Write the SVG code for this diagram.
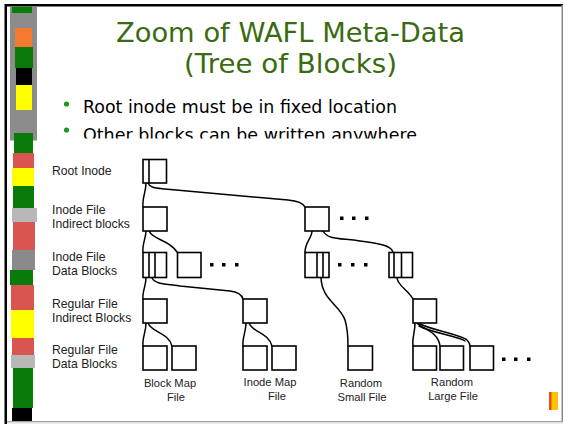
<svg xmlns="http://www.w3.org/2000/svg" width="565" height="424" viewBox="0 0 565 424">
<style>
.b{fill:#fff;stroke:#000;stroke-width:1.6}
.l{fill:none;stroke:#000;stroke-width:1.6}
.c{fill:none;stroke:#000;stroke-width:1.5;stroke-linecap:round}
.lab{font-family:"Liberation Sans",Arial,sans-serif;font-size:12.2px;fill:#222}
.cap{font-family:"Liberation Sans",Arial,sans-serif;font-size:11.2px;fill:#222;text-anchor:middle}
.t{font-family:"DejaVu Sans","Comic Sans MS",sans-serif;font-size:27px;fill:#3a6b10}
.bu{font-family:"DejaVu Sans","Comic Sans MS",sans-serif;font-size:18px;fill:#000}
.d{fill:#000}
</style>
<defs>
<clipPath id="clipB"><rect x="0" y="90" width="565" height="48.5"/></clipPath>
</defs>
<rect width="565" height="424" fill="#fff"/>
<g id="frame">
<rect x="4.5" y="4" width="2.5" height="420" fill="#000"/>
<rect x="5" y="4" width="558" height="2.5" fill="#000"/>
<rect x="561.5" y="5" width="1.5" height="417" fill="#8a8a8a"/>
<rect x="7" y="421" width="556" height="1.5" fill="#a0a0a0"/>
<rect x="7" y="422.5" width="556" height="1.5" fill="#eee"/>
</g>
<g id="stripe">
<rect x="10" y="6.5" width="27" height="134" fill="#8c8c8c"/>
<rect x="12" y="6.5" width="20" height="6.5" fill="#0a7a0a"/>
<rect x="15" y="28" width="17" height="19" fill="#f47a30"/>
<rect x="15" y="47" width="18" height="21" fill="#0a7a0a"/>
<rect x="16" y="68" width="16" height="17" fill="#000"/>
<rect x="16" y="85" width="16" height="25" fill="#ffff00"/>
<rect x="14" y="133" width="19" height="20" fill="#0a7a0a"/>
<rect x="13" y="153" width="21" height="15" fill="#d95550"/>
<rect x="12" y="168" width="22" height="18" fill="#ffff00"/>
<rect x="13" y="186" width="21" height="22" fill="#0a7a0a"/>
<rect x="12" y="208" width="25" height="14" fill="#b8b8b8"/>
<rect x="13" y="222" width="22" height="28" fill="#d95550"/>
<rect x="12" y="250" width="23" height="20" fill="#8a8a8a"/>
<rect x="10" y="270" width="23" height="15" fill="#0a7a0a"/>
<rect x="11" y="285" width="23" height="25" fill="#d95550"/>
<rect x="11" y="310" width="23" height="28" fill="#ffff00"/>
<rect x="12" y="338" width="22" height="17" fill="#d95550"/>
<rect x="11" y="355" width="24" height="13" fill="#b8b8b8"/>
<rect x="13" y="368" width="20" height="40" fill="#0a7a0a"/>
<rect x="12" y="408" width="20" height="13" fill="#000"/>
</g>
<g id="title">
<text class="t" x="116" y="42" textLength="349" lengthAdjust="spacingAndGlyphs">Zoom of WAFL Meta-Data</text>
<text class="t" x="184" y="73" textLength="213" lengthAdjust="spacingAndGlyphs">(Tree of Blocks)</text>
</g>
<g id="bullets" clip-path="url(#clipB)">
<circle cx="66.5" cy="104" r="2.6" fill="#1a9a1a"/>
<text class="bu" x="83" y="113" textLength="314" lengthAdjust="spacingAndGlyphs">Root inode must be in fixed location</text>
<circle cx="66.5" cy="130" r="2.6" fill="#1a9a1a"/>
<text class="bu" x="83" y="141" textLength="334" lengthAdjust="spacingAndGlyphs">Other blocks can be written anywhere</text>
</g>
<g id="labels">
<text class="lab" x="52" y="175">Root Inode</text>
<text class="lab" x="52" y="214">Inode File</text>
<text class="lab" x="52" y="228">Indirect blocks</text>
<text class="lab" x="52" y="261">Inode File</text>
<text class="lab" x="52" y="275">Data Blocks</text>
<text class="lab" x="52" y="308">Regular File</text>
<text class="lab" x="52" y="322">Indirect Blocks</text>
<text class="lab" x="52" y="354">Regular File</text>
<text class="lab" x="52" y="368">Data Blocks</text>
</g>
<g id="connectors">
<path class="c" d="M146,183 C146,192 142,198 143,207"/>
<path class="c" d="M148,183 C150,188 155,188 165,189 L288,200 C298,201 303,203 305,207"/>
<path class="c" d="M146,231 C146,238 142,244 143,252"/>
<path class="c" d="M149,231 C153,240 170,240 177,252"/>
<path class="c" d="M312,231 C312,238 305,242 305,252"/>
<path class="c" d="M323,231 C328,240 340,238 360,241 C380,244 390,245 393,252"/>
<path class="c" d="M146,278 C146,286 142,292 143,299"/>
<path class="c" d="M152,278 C155,284 165,284 180,286 L230,291 C238,292 242,295 243,299"/>
<path class="c" d="M321,278 C322,300 340,305 345,320 C348,330 348,340 348,346"/>
<path class="c" d="M397,278 C398,286 408,290 413,299"/>
<path class="c" d="M146,323 C146,332 142,338 143,346"/>
<path class="c" d="M148,323 C152,333 168,332 172,346"/>
<path class="c" d="M246,323 C246,332 242,338 243,346"/>
<path class="c" d="M249,323 C253,333 268,332 272,346"/>
<path class="c" d="M415,323 C415,332 412,338 413,346"/>
<path class="c" d="M417,323 C425,330 438,332 440,346"/>
<path class="c" d="M418,323 C430,330 460,334 467,340 C469,342 470,344 470,346"/>
<path class="c" d="M419,326 C432,333 458,336 465,341"/>
</g>
<g id="root-inode">
<rect class="b" x="143" y="159.5" width="23.5" height="23.5"/>
<line class="l" x1="149" y1="159.5" x2="149" y2="183"/>
</g>
<g id="inode-indirect-1"><rect class="b" x="143" y="207" width="24" height="24"/></g>
<g id="inode-indirect-2"><rect class="b" x="305" y="207" width="24" height="24"/>
<rect class="d" x="340" y="216.5" width="3.5" height="3.5"/><rect class="d" x="352" y="216.5" width="3.5" height="3.5"/><rect class="d" x="365" y="216.5" width="3.5" height="3.5"/></g>
<g id="inode-data-1"><rect class="b" x="143" y="252.5" width="23.5" height="25"/>
<line class="l" x1="149" y1="252.5" x2="149" y2="277.5"/><line class="l" x1="155" y1="252.5" x2="155" y2="277.5"/></g>
<g id="inode-data-2"><rect class="b" x="177.5" y="252.5" width="23.5" height="25"/>
<rect class="d" x="210" y="263" width="3.5" height="3.5"/><rect class="d" x="222" y="263" width="3.5" height="3.5"/><rect class="d" x="235" y="263" width="3.5" height="3.5"/></g>
<g id="inode-data-3"><rect class="b" x="305" y="252.5" width="24" height="25"/>
<line class="l" x1="317" y1="252.5" x2="317" y2="277.5"/><line class="l" x1="323" y1="252.5" x2="323" y2="277.5"/>
<rect class="d" x="338" y="263" width="3.5" height="3.5"/><rect class="d" x="351" y="263" width="3.5" height="3.5"/><rect class="d" x="364" y="263" width="3.5" height="3.5"/></g>
<g id="inode-data-4"><rect class="b" x="389" y="252.5" width="23.5" height="25"/>
<line class="l" x1="394" y1="252.5" x2="394" y2="277.5"/><line class="l" x1="401.5" y1="252.5" x2="401.5" y2="277.5"/></g>
<g id="reg-indirect-1"><rect class="b" x="143" y="299" width="24" height="24"/></g>
<g id="reg-indirect-2"><rect class="b" x="243" y="299" width="24" height="24"/></g>
<g id="reg-indirect-3"><rect class="b" x="413" y="299" width="23.5" height="24"/></g>
<g id="reg-data-1"><rect class="b" x="143" y="346" width="24" height="24"/></g>
<g id="reg-data-2"><rect class="b" x="172" y="346" width="24" height="24"/></g>
<g id="reg-data-3"><rect class="b" x="243" y="346" width="24" height="24"/></g>
<g id="reg-data-4"><rect class="b" x="272" y="346" width="24" height="24"/></g>
<g id="reg-data-5"><rect class="b" x="348" y="346" width="24.5" height="24"/></g>
<g id="reg-data-6"><rect class="b" x="413" y="346" width="23.5" height="24"/></g>
<g id="reg-data-7"><rect class="b" x="440" y="346" width="23.5" height="24"/></g>
<g id="reg-data-8"><rect class="b" x="470" y="346" width="23.5" height="24"/>
<rect class="d" x="502" y="357.5" width="3.5" height="3.5"/><rect class="d" x="514" y="357.5" width="3.5" height="3.5"/><rect class="d" x="527" y="357.5" width="3.5" height="3.5"/></g>
<g id="captions">
<text class="cap" x="170" y="387">Block Map</text>
<text class="cap" x="176" y="401">File</text>
<text class="cap" x="270" y="386">Inode Map</text>
<text class="cap" x="277" y="400">File</text>
<text class="cap" x="361" y="387">Random</text>
<text class="cap" x="362" y="401">Small File</text>
<text class="cap" x="452" y="385.5">Random</text>
<text class="cap" x="453" y="399.5">Large File</text>
</g>
<g id="logo">
<rect x="549" y="392" width="3" height="18" fill="#e8501a"/>
<rect x="551.5" y="392" width="6.5" height="18" fill="#ffc000"/>
</g>
</svg>
